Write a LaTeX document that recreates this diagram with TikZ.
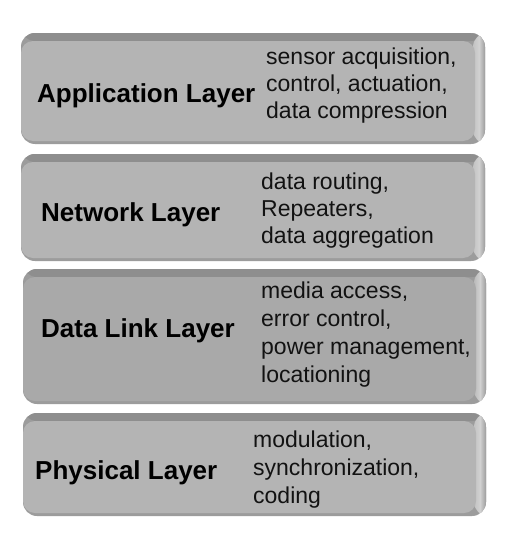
\documentclass[tikz,border=0pt]{standalone}
\usepackage{fontspec}
\setmainfont{Liberation Sans}
\definecolor{frame}{HTML}{9C9C9C}
\definecolor{topband}{HTML}{8E8E8E}
\definecolor{facelight}{HTML}{B4B4B4}
\definecolor{facedark}{HTML}{A9A9A9}
\begin{document}
\begin{tikzpicture}[x=1pt,y=-1pt,
  layerbox/.style={rectangle, rounded corners=14pt, fill=frame, draw=none, inner sep=0pt,
    path picture={
      \fill[topband] (path picture bounding box.north west) rectangle ([yshift=-8pt]path picture bounding box.north east);
      \shade[left color=#1!80!white, right color=frame, middle color=white!82!black]
        ([xshift=-12pt]path picture bounding box.north east) rectangle (path picture bounding box.south east);
      \fill[#1, rounded corners=12pt] ([yshift=-8pt]path picture bounding box.north west) rectangle ([xshift=-10pt,yshift=3pt]path picture bounding box.south east);
    }},
  layername/.style={anchor=base west, inner sep=0pt, font=\fontsize{26}{30}\selectfont\bfseries},
  layerdesc/.style={anchor=base west, inner sep=0pt, align=left, text=black!93, font=\fontsize{23}{27}\selectfont}
]
\useasboundingbox[fill=white] (0,0) rectangle (520,546);

\node[layerbox=facelight, minimum width=464pt, minimum height=111pt] (b1) at (253,88.5) {};
\node[layerbox=facelight, minimum width=464pt, minimum height=107pt] (b2) at (253,207.5) {};
\node[layerbox=facedark, minimum width=463pt, minimum height=135pt] (b3) at (254.5,336.5) {};
\node[layerbox=facelight, minimum width=463pt, minimum height=103pt] (b4) at (254.5,464.5) {};

\node[layername] (n1) at (37,102) {Application Layer};
\node[layername] (n2) at (41,221) {Network Layer};
\node[layername] (n3) at (41,337) {Data Link Layer};
\node[layername] (n4) at (35,479) {Physical Layer};

\node[layerdesc] (d1) at (266,118) {sensor acquisition,\\control, actuation,\\data compression};
\node[layerdesc] (d2) at (261,243) {data routing,\\Repeaters,\\data aggregation};
\node[layerdesc, font=\fontsize{23}{28}\selectfont] (d3) at (261,382) {media access,\\error control,\\power management,\\locationing};
\node[layerdesc, font=\fontsize{23}{28}\selectfont] (d4) at (253,503) {modulation,\\synchronization,\\coding};
\end{tikzpicture}
\end{document}
